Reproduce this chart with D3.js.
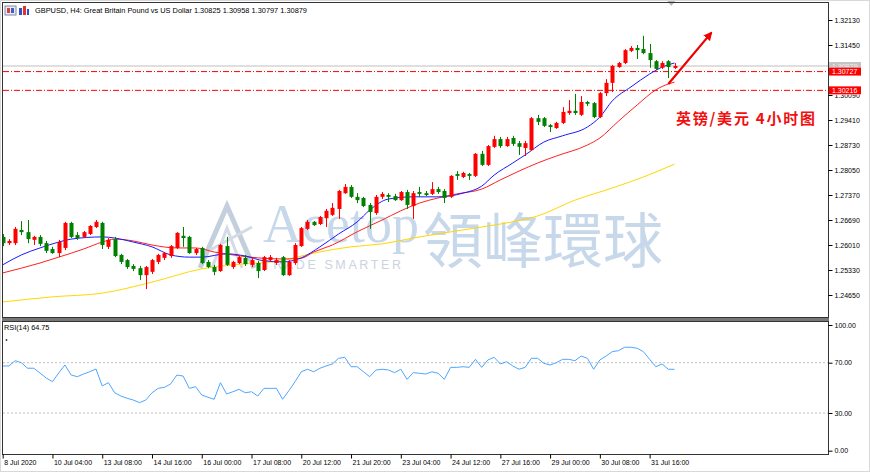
<!DOCTYPE html>
<html lang="en">
<head>
<meta charset="UTF-8">
<title>GBPUSD H4</title>
<script src="https://d3js.org/d3.v7.min.js"></script>
<style>
  body { margin: 0; background: #fff; }
  svg { display: block; font-family: "Liberation Sans", Arial, sans-serif; }
  .axis text { font-size: 7px; fill: #000; }
  .axis line { stroke: #000; }
</style>
</head>
<body>
<svg width="870" height="472"></svg>
<script>
// ---- data (H4 bars, index 0 = 8 Jul 2020) ----
const opens = [1.2623,1.2606,1.2606,1.2642,1.2636,1.2615,1.2623,1.2606,1.2590,1.2579,
  1.2593,1.2661,1.2628,1.2623,1.2631,1.2650,1.2661,1.2596,1.2617,1.2574,
  1.2560,1.2544,1.2538,1.2519,1.2528,1.2555,1.2566,1.2571,1.2593,1.2626,
  1.2623,1.2579,1.2593,1.2555,1.2541,1.2530,1.2598,1.2541,1.2552,1.2566,
  1.2547,1.2552,1.2533,1.2560,1.2552,1.2568,1.2519,1.2552,1.2598,1.2645,
  1.2664,1.2658,1.2674,1.2683,1.2699,1.2742,1.2759,1.2732,1.2729,1.2710,
  1.2688,1.2732,1.2737,1.2734,1.2723,1.2745,1.2707,1.2745,1.2742,1.2740,
  1.2753,1.2748,1.2732,1.2794,1.2786,1.2794,1.2789,1.2849,1.2819,1.2868,
  1.2889,1.2870,1.2892,1.2878,1.2865,1.2859,1.2946,1.2946,1.2927,1.2919,
  1.2933,1.2960,1.2966,1.2955,1.2990,1.2987,1.2949,1.3014,1.3042,1.3085,
  1.3096,1.3129,1.3137,1.3134,1.3123,1.3101,1.3083,1.3101,1.30825];
const highs = [1.2631,1.2617,1.2650,1.2666,1.2669,1.2626,1.2628,1.2612,1.2596,1.2615,
  1.2664,1.2664,1.2636,1.2639,1.2655,1.2669,1.2664,1.2620,1.2623,1.2577,
  1.2563,1.2549,1.2544,1.2544,1.2563,1.2577,1.2582,1.2601,1.2636,1.2650,
  1.2626,1.2593,1.2596,1.2560,1.2547,1.2604,1.2623,1.2558,1.2571,1.2574,
  1.2566,1.2558,1.2571,1.2574,1.2566,1.2571,1.2560,1.2606,1.2650,1.2669,
  1.2666,1.2680,1.2699,1.2715,1.2751,1.2767,1.2764,1.2742,1.2732,1.2715,
  1.2737,1.2745,1.2742,1.2740,1.2748,1.2751,1.2748,1.2759,1.2748,1.2772,
  1.2759,1.2753,1.2791,1.2802,1.2800,1.2797,1.2851,1.2857,1.2873,1.2898,
  1.2895,1.2895,1.2898,1.2884,1.2884,1.2949,1.2955,1.2949,1.2930,1.2936,
  1.2976,1.2995,1.3012,1.3006,1.2993,1.2990,1.3017,1.3052,1.3091,1.3099,
  1.3134,1.3142,1.3145,1.3170,1.3148,1.3104,1.3101,1.3104,1.30958];
const lows = [1.2598,1.2601,1.2601,1.2628,1.2606,1.2601,1.2598,1.2579,1.2577,1.2568,
  1.2587,1.2620,1.2615,1.2620,1.2628,1.2647,1.2590,1.2590,1.2568,1.2549,
  1.2536,1.2530,1.2506,1.2481,1.2522,1.2549,1.2560,1.2566,1.2590,1.2596,
  1.2577,1.2574,1.2549,1.2538,1.2519,1.2528,1.2544,1.2536,1.2549,1.2544,
  1.2541,1.2511,1.2530,1.2555,1.2547,1.2517,1.2517,1.2547,1.2596,1.2642,
  1.2653,1.2655,1.2650,1.2680,1.2672,1.2740,1.2729,1.2715,1.2704,1.2645,
  1.2683,1.2726,1.2718,1.2721,1.2721,1.2699,1.2672,1.2732,1.2734,1.2737,
  1.2740,1.2715,1.2729,1.2778,1.2783,1.2778,1.2786,1.2816,1.2816,1.2865,
  1.2865,1.2868,1.2870,1.2846,1.2843,1.2857,1.2927,1.2922,1.2908,1.2917,
  1.2930,1.2955,1.2955,1.2952,1.2979,1.2946,1.2946,1.3006,1.3017,1.3083,
  1.3093,1.3126,1.3107,1.3120,1.3083,1.3077,1.3080,1.3055,1.30797];
const closes = [1.2606,1.2612,1.2645,1.2636,1.2617,1.2623,1.2604,1.2585,1.2579,1.2609,
  1.2661,1.2623,1.2620,1.2636,1.2653,1.2664,1.2601,1.2615,1.2571,1.2555,
  1.2541,1.2536,1.2519,1.2541,1.2560,1.2574,1.2579,1.2598,1.2634,1.2620,
  1.2579,1.2590,1.2552,1.2541,1.2528,1.2601,1.2547,1.2555,1.2568,1.2549,
  1.2560,1.2530,1.2568,1.2568,1.2560,1.2519,1.2555,1.2601,1.2647,1.2664,
  1.2655,1.2677,1.2694,1.2702,1.2748,1.2759,1.2732,1.2723,1.2707,1.2691,
  1.2732,1.2740,1.2732,1.2723,1.2745,1.2710,1.2742,1.2740,1.2737,1.2753,
  1.2745,1.2729,1.2789,1.2789,1.2797,1.2789,1.2849,1.2819,1.2870,1.2889,
  1.2870,1.2889,1.2876,1.2868,1.2878,1.2946,1.2936,1.2925,1.2922,1.2933,
  1.2963,1.2966,1.2960,1.2990,1.2985,1.2949,1.3014,1.3042,1.3088,1.3096,
  1.3131,1.3137,1.3131,1.3123,1.3104,1.3080,1.3096,1.3085,1.30879];

// moving averages, read at a few bars each
const blueIdx = [0,3,6,9,11,16,18,21,24,27,30,32,36,39,42,45,48,51,54,57,59,62,66,70,74,77,79,82,84,87,90,94,96,98,101,104,106,108];
const blueVals = [1.2547,1.2574,1.2593,1.2609,1.2617,1.2623,1.2620,1.2609,1.2596,1.2574,1.2568,1.2568,1.2577,1.2571,1.2558,1.2555,1.2566,1.2596,1.2631,1.2664,1.2696,1.2726,1.2732,1.2732,1.2742,1.2761,1.2791,1.2824,1.2846,1.2881,1.2898,1.2922,1.2949,1.2993,1.3031,1.3066,1.3085,1.3096];
const redIdx = [0,3,6,9,13,16,18,21,24,28,31,34,37,41,45,48,50,53,57,61,64,67,70,73,77,80,83,86,89,94,96,99,102,105,107,108];
const redVals = [1.2525,1.2538,1.2552,1.2568,1.2590,1.2609,1.2617,1.2612,1.2601,1.2593,1.2593,1.2582,1.2574,1.2566,1.2563,1.2565,1.2582,1.2601,1.2637,1.2669,1.2694,1.2715,1.2729,1.2740,1.2753,1.2778,1.2802,1.2824,1.2843,1.2873,1.2892,1.2938,1.2982,1.3023,1.3039,1.3044];
const yellowIdx = [0,8,16,24,32,37,45,50,56,61,66,71,77,82,86,92,98,103,108];
const yellowVals = [1.2446,1.2460,1.2470,1.2500,1.2536,1.2547,1.2559,1.2579,1.2596,1.2604,1.2620,1.2634,1.2650,1.2664,1.2680,1.2723,1.2756,1.2786,1.2821];

// RSI(14)
const rsi = [67.4,67.4,71.6,70.0,65.6,65.6,61.8,57.8,54.9,61.8,
  68.2,60.2,58.9,61.0,62.8,65.0,51.5,54.1,46.1,43.5,
  41.7,40.3,38.2,40.3,46.1,49.6,50.4,53.1,60.2,59.4,
  49.6,50.9,44.3,42.5,40.9,54.1,45.1,46.9,48.8,46.1,
  46.9,43.5,49.6,49.6,49.6,40.9,47.7,54.9,62.8,64.8,
  62.8,65.6,67.4,69.0,73.5,74.3,66.8,66.8,62.8,58.9,
  64.2,64.8,64.2,62.1,64.8,56.8,62.1,61.6,61.0,62.8,
  61.6,56.8,66.3,66.3,66.8,66.3,72.7,66.3,72.2,74.3,
  69.0,70.8,67.4,64.8,66.3,73.5,73.5,69.5,68.2,70.0,
  72.7,72.7,71.6,75.3,73.5,64.8,72.2,75.3,78.8,79.6,
  82.3,82.3,81.5,78.8,72.7,66.8,69.0,64.8,64.75];

const priceTicks = [1.32130,1.31450,1.30770,1.30090,1.29410,1.28730,1.28050,1.27370,1.26690,1.26010,1.25330,1.24650];
const hiddenTicks = [1.30770];   // fully covered by the price tags
const partTicks = [1.30090];     // half covered by the 1.30216 tag
const rsiTicks = [0, 30, 70, 100];
const timeTickIdx = [0,8,16,24,32,40,48,56,64,72,80,88,96,104];
const timeLabels = ["8 Jul 2020","10 Jul 04:00","13 Jul 08:00","14 Jul 16:00","16 Jul 00:00","17 Jul 08:00","20 Jul 12:00",
  "21 Jul 20:00","23 Jul 04:00","24 Jul 12:00","27 Jul 16:00","29 Jul 00:00","30 Jul 08:00","31 Jul 16:00"];

const bidPrice = 1.30879;
const levels = [1.30727, 1.30216];
const arrowFrom = [107, 1.3039], arrowTo = [113.9, 1.3178];

// ---- scales ----
const svg = d3.select("svg");
const x = d3.scaleLinear().domain([0, 108]).range([2.7, 674.5]);
const y = d3.scaleLinear().domain([1.24650, 1.32130]).range([295, 20]);
const yr = d3.scaleLinear().domain([0, 100]).range([450.7, 325]);

// outer frame + panes
svg.append("rect").attr("x", 0.5).attr("y", 0.5).attr("width", 869).attr("height", 471)
  .attr("fill", "#fff").attr("stroke", "#d8d8d8");

const defs = svg.append("defs");
defs.append("clipPath").attr("id", "mainClip").append("rect")
  .attr("x", 3).attr("y", 3).attr("width", 825).attr("height", 314);
defs.append("clipPath").attr("id", "rsiClip").append("rect")
  .attr("x", 3).attr("y", 322).attr("width", 825).attr("height", 132);
defs.append("clipPath").attr("id", "bidClip").append("rect")
  .attr("x", 829).attr("y", 60).attr("width", 40).attr("height", 7.6);
defs.append("clipPath").attr("id", "partClip").append("rect")
  .attr("x", 829).attr("y", y(levels[1]) + 4).attr("width", 40).attr("height", 6);

// watermark
const wm = svg.append("g").attr("fill", "#c8d8eb").attr("clip-path", "url(#mainClip)");
wm.append("path").attr("d", "M200,268 L227,206 L254,268").attr("fill", "none")
  .attr("stroke", "#c4cfdd").attr("stroke-width", 5);
wm.append("path").attr("d", "M212,268 L227,228 L242,268 M210,250 L252,227").attr("fill", "none")
  .attr("stroke", "#d3dbe6").attr("stroke-width", 3);
wm.append("text").attr("x", 263).attr("y", 242)
  .style("font-family", "'Liberation Serif', serif").style("font-size", "54px").text("Acetop");
wm.append("text").attr("x", 423).attr("y", 263)
  .style("font-family", "'Noto Sans CJK TC', sans-serif").style("font-size", "60px").text("領峰環球");
wm.append("text").attr("x", 263).attr("y", 269).attr("fill", "#cbd3de")
  .style("font-size", "12.5px").style("letter-spacing", "2.6px").text("TRADE SMARTER");

// main pane content
const main = svg.append("g").attr("clip-path", "url(#mainClip)");

main.append("line").attr("x1", 3).attr("x2", 828)
  .attr("y1", y(bidPrice)).attr("y2", y(bidPrice)).attr("stroke", "#c0c0c0");
main.selectAll(".lvl").data(levels).join("line").attr("class", "lvl")
  .attr("x1", 3).attr("x2", 828).attr("y1", d => y(d)).attr("y2", d => y(d))
  .attr("stroke", "#ff0000").attr("stroke-dasharray", "6,2,1,2");

const lineGen = d3.line().x(d => x(d[0])).y(d => y(d[1])).curve(d3.curveMonotoneX);
const maLines = [
  { idx: yellowIdx, vals: yellowVals, color: "#ffd700" },
  { idx: redIdx, vals: redVals, color: "#ff2020" },
  { idx: blueIdx, vals: blueVals, color: "#1a1aff" }
];
maLines.forEach(m => {
  main.append("path").datum(m.idx.map((d, i) => [d, m.vals[i]]))
    .attr("d", lineGen).attr("fill", "none").attr("stroke", m.color).attr("stroke-width", 1);
});

const bars = opens.map((o, i) => ({ i, o, h: highs[i], l: lows[i], c: closes[i] }));
const candle = main.selectAll(".candle").data(bars).join("g").attr("class", "candle");
const col = d => d.c >= d.o ? "#ff0000" : "#008000";
candle.append("line")
  .attr("x1", d => Math.round(x(d.i)) + 0.5).attr("x2", d => Math.round(x(d.i)) + 0.5)
  .attr("y1", d => y(d.h)).attr("y2", d => y(d.l)).attr("stroke", col);
candle.append("rect")
  .attr("x", d => Math.round(x(d.i)) - 1.5).attr("width", 4)
  .attr("y", d => y(Math.max(d.o, d.c)))
  .attr("height", d => Math.max(1, y(Math.min(d.o, d.c)) - y(Math.max(d.o, d.c))))
  .attr("fill", col);

// arrow annotation
defs.append("marker").attr("id", "head").attr("viewBox", "0 0 10 10")
  .attr("refX", 8).attr("refY", 5).attr("markerWidth", 4).attr("markerHeight", 4)
  .attr("orient", "auto").append("path").attr("d", "M0,0 L10,5 L0,10 z").attr("fill", "#ee0000");
main.append("line")
  .attr("x1", x(arrowFrom[0])).attr("y1", y(arrowFrom[1]))
  .attr("x2", x(arrowTo[0])).attr("y2", y(arrowTo[1]))
  .attr("stroke", "#ee0000").attr("stroke-width", 2.2).attr("marker-end", "url(#head)");

main.append("text").attr("x", 676).attr("y", 124)
  .attr("fill", "#f01010").attr("textLength", 139)
  .style("font-family", "'Noto Sans CJK SC', sans-serif").style("font-size", "15px").style("font-weight", "bold")
  .text("英镑/美元 4小时图");

// title
const title = svg.append("g");
title.append("rect").attr("x", 5).attr("y", 6).attr("width", 11).attr("height", 9).attr("fill", "#e8ecf4").attr("stroke", "#7a8aa8");
title.append("rect").attr("x", 7).attr("y", 8).attr("width", 3).attr("height", 5).attr("fill", "#e04040");
title.append("rect").attr("x", 11).attr("y", 8).attr("width", 3).attr("height", 5).attr("fill", "#4060c0");
title.append("rect").attr("x", 19).attr("y", 8).attr("width", 3).attr("height", 7).attr("fill", "#3050d0");
title.append("rect").attr("x", 23).attr("y", 6).attr("width", 3).attr("height", 9).attr("fill", "#e03030");
title.append("rect").attr("x", 27).attr("y", 9).attr("width", 2).attr("height", 6).attr("fill", "#3050d0");
title.append("text").attr("x", 35).attr("y", 13).style("font-size", "7.4px")
  .text("GBPUSD, H4:  Great Britain Pound vs US Dollar  1.30825 1.30958 1.30797 1.30879");

// chart shift marker
svg.append("path").attr("d", `M${x(107) - 1},1 L${x(107) + 7},1 L${x(107) + 3},6 z`).attr("fill", "#b8b8b8");

// RSI pane
const rsiG = svg.append("g").attr("clip-path", "url(#rsiClip)");
rsiG.selectAll(".rl").data([70, 30]).join("line").attr("class", "rl")
  .attr("x1", 3).attr("x2", 828).attr("y1", d => yr(d)).attr("y2", d => yr(d))
  .attr("stroke", "#c0c0c0").attr("stroke-dasharray", "2,2");
rsiG.append("path").datum(rsi)
  .attr("d", d3.line().x((d, i) => x(i)).y(d => yr(d)))
  .attr("fill", "none").attr("stroke", "#4ea6ff").attr("stroke-width", 1);
svg.append("text").attr("x", 4).attr("y", 330).style("font-size", "7.3px").text("RSI(14) 64.75");
svg.append("circle").attr("cx", 6.5).attr("cy", 340).attr("r", 0.9).attr("fill", "#333");

// frames
svg.append("rect").attr("x", 2.5).attr("y", 2.5).attr("width", 826).attr("height", 315)
  .attr("fill", "none").attr("stroke", "#333");
svg.append("rect").attr("x", 2).attr("y", 318).attr("width", 827).attr("height", 3).attr("fill", "#777");
svg.append("rect").attr("x", 2.5).attr("y", 321.5).attr("width", 826).attr("height", 133)
  .attr("fill", "none").attr("stroke", "#333");

// axes
svg.append("g").attr("class", "axis").attr("transform", "translate(828.5,0)")
  .call(d3.axisRight(y).tickValues(priceTicks).tickSize(4).tickPadding(2)
    .tickFormat(d => hiddenTicks.includes(d) ? "" : d3.format(".5f")(d)))
  .call(g => g.select(".domain").remove())
  .call(g => g.selectAll(".tick").filter(d => partTicks.includes(d)).select("text")
    .attr("transform", d => `translate(-828.5,${-y(d)})`)
    .attr("x", 834.5).attr("y", d => y(d)).attr("clip-path", "url(#partClip)"));
svg.append("g").attr("class", "axis").attr("transform", "translate(828.5,0)")
  .call(d3.axisRight(yr).tickValues(rsiTicks).tickSize(4).tickPadding(2).tickFormat(d3.format(".2f")))
  .call(g => g.select(".domain").remove());
svg.append("g").attr("class", "axis").attr("transform", "translate(0,454.5)")
  .call(d3.axisBottom(x).tickValues(timeTickIdx).tickSize(4).tickPadding(2).tickFormat((d, i) => timeLabels[i]))
  .call(g => g.select(".domain").remove())
  .call(g => g.selectAll("text").attr("text-anchor", "start").attr("x", 1));

// price tags on the axis: gray bid tag shows only above the red one
const bidTag = svg.append("g").attr("clip-path", "url(#bidClip)");
bidTag.append("rect").attr("x", 829).attr("y", y(bidPrice) - 4).attr("width", 32).attr("height", 8).attr("fill", "#c4c4c4");
bidTag.append("text").attr("x", 832).attr("y", y(bidPrice) + 2.6).attr("fill", "#eeeeee")
  .style("font-size", "7px").text(bidPrice.toFixed(5));
const tag = svg.selectAll(".tag").data(levels).join("g").attr("class", "tag");
tag.append("rect").attr("x", 829).attr("y", d => y(d) - 4).attr("width", 32).attr("height", 8).attr("fill", "#ff0000");
tag.append("text").attr("x", 832).attr("y", d => y(d) + 2.6).attr("fill", "#ffffff")
  .style("font-size", "7px").text(d => d.toFixed(5));
</script>
</body>
</html>
